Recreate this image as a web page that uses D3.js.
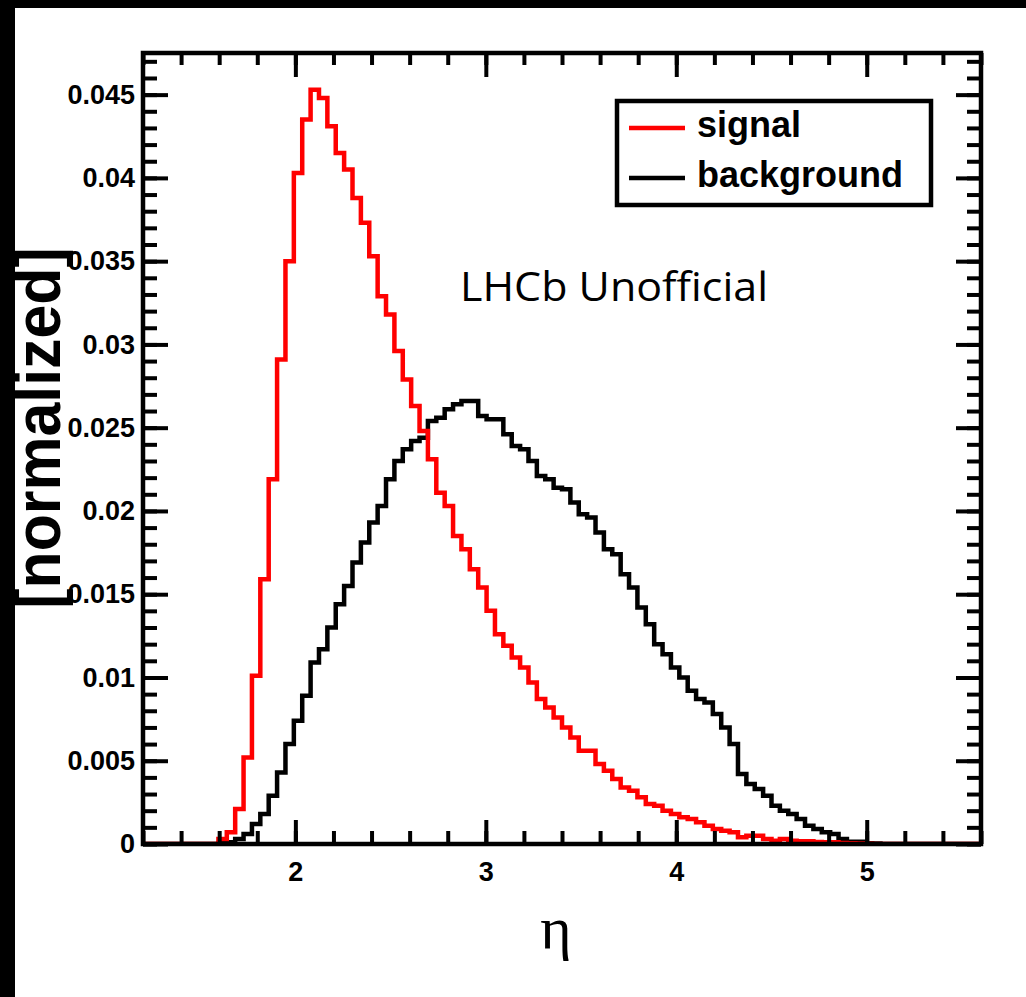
<!DOCTYPE html>
<html>
<head>
<meta charset="utf-8">
<script src="https://cdn.jsdelivr.net/npm/d3@7"></script>
<style>
body { margin: 0; background: #fff; }
svg { display: block; }
.tick text { font-family: "Liberation Sans", Arial, sans-serif; font-weight: bold; font-size: 27px; fill: #000; }
.tick line { stroke: #000; stroke-width: 4px; }
</style>
</head>
<body>
<svg></svg>
<script>
var width = 1026;
var height = 997;

// 100 bins of width 0.044 between 1.2 and 5.6
var binLow = 1.2;
var binWidth = 0.044;

var signal = [
    0, 0, 0, 0, 0, 0, 0, 0, 0, 0.0003,
    0.0007, 0.0021, 0.0052, 0.0101, 0.0159, 0.0219, 0.0291, 0.0350, 0.0403, 0.0435,
    0.0453, 0.0448, 0.0431, 0.0415, 0.0405, 0.0388, 0.0373, 0.0353, 0.0329, 0.0318,
    0.0296, 0.0279, 0.0263, 0.0248, 0.0231, 0.0211, 0.0203, 0.0185, 0.0177, 0.0165,
    0.0154, 0.0140, 0.0126, 0.0119, 0.0112, 0.0106, 0.0097, 0.0087, 0.0082, 0.0076,
    0.0070, 0.0064, 0.0056, 0.0056, 0.0048, 0.0044, 0.0039, 0.0034, 0.0032, 0.0028,
    0.0024, 0.0023, 0.0020, 0.0018, 0.0016, 0.0015, 0.0013, 0.0011, 0.0009, 0.0008,
    0.0007, 0.0004, 0.0005, 0.0005, 0.0003, 0.0002, 0.0003, 0.0002, 0.00016, 0.00016,
    0.00012, 0.0001, 0.0001, 0.00006, 0.00004, 0.00003, 0.00002, 0, 0, 0,
    0, 0, 0, 0, 0, 0, 0, 0, 0, 0
];

var background = [
    0, 0, 0, 0, 0, 0, 0, 0, 0, 0.00005,
    0.0001, 0.0003, 0.0006, 0.0012, 0.0018, 0.0029, 0.0043, 0.0060, 0.0074, 0.0089,
    0.0109, 0.0117, 0.0130, 0.0144, 0.0155, 0.0169, 0.0181, 0.0193, 0.0203, 0.0219,
    0.0230, 0.0237, 0.0242, 0.0244, 0.0254, 0.0256, 0.0261, 0.0264, 0.0266, 0.0266,
    0.0257, 0.0255, 0.0255, 0.0246, 0.0239, 0.0237, 0.0230, 0.0221, 0.0219, 0.0214,
    0.0213, 0.0205, 0.0198, 0.0196, 0.0187, 0.0177, 0.0174, 0.0162, 0.0154, 0.0142,
    0.0132, 0.0120, 0.0114, 0.0106, 0.0100, 0.0092, 0.0087, 0.0085, 0.0078, 0.0070,
    0.0060, 0.0042, 0.0036, 0.0033, 0.0029, 0.0023, 0.0020, 0.0018, 0.0015, 0.0011,
    0.0009, 0.0007, 0.0006, 0.0003, 0.00014, 0.00014, 0.00005, 0.00003, 0, 0,
    0, 0, 0, 0, 0, 0, 0, 0, 0, 0
];

var xTicks = [2, 3, 4, 5];
var xTickLabels = ["2", "3", "4", "5"];
var yTicks = [0, 0.005, 0.01, 0.015, 0.02, 0.025, 0.03, 0.035, 0.04, 0.045];
var yTickLabels = ["0", "0.005", "0.01", "0.015", "0.02", "0.025", "0.03", "0.035", "0.04", "0.045"];

var seriesNames = ["signal", "background"];
var seriesColors = ["#ff0000", "#000000"];

var svg = d3.select("svg")
    .attr("width", width)
    .attr("height", height);

// dark screen edge of the original screenshot
svg.append("rect").attr("x", 0).attr("y", 0).attr("width", 15).attr("height", height).attr("fill", "#000");
svg.append("rect").attr("x", 0).attr("y", 0).attr("width", width).attr("height", 8).attr("fill", "#000");

var plotLeft = 143, plotRight = 981, plotTop = 53, plotBottom = 844;

var x = d3.scaleLinear().domain([1.2, 5.6]).range([plotLeft, plotRight]);
var y = d3.scaleLinear().domain([0, 0.0475]).range([plotBottom, plotTop]);

var xMinor = d3.range(12, 57, 2).map(function(d) { return d / 10; });
var yMinor = d3.range(0, 48, 1).map(function(d) { return d / 1000; });

svg.append("clipPath").attr("id", "plot-clip")
  .append("rect")
    .attr("x", plotLeft).attr("y", plotTop)
    .attr("width", plotRight - plotLeft).attr("height", plotBottom - plotTop);

function stepPoints(vals) {
    var pts = [[binLow, 0]];
    vals.forEach(function(v, i) {
        var lo = binLow + i * binWidth;
        pts.push([lo, v]);
        pts.push([lo + binWidth, v]);
    });
    pts.push([binLow + vals.length * binWidth, 0]);
    return pts;
}

var line = d3.line()
    .x(function(d) { return x(d[0]); })
    .y(function(d) { return y(d[1]); });

var hists = svg.append("g").attr("clip-path", "url(#plot-clip)");

[background, signal].forEach(function(vals, i) {
    hists.append("path")
        .attr("d", line(stepPoints(vals)))
        .attr("fill", "none")
        .attr("stroke", i == 0 ? seriesColors[1] : seriesColors[0])
        .attr("stroke-width", 4.5)
        .attr("stroke-linejoin", "miter");
});

function noDomain(g) { g.select(".domain").remove(); }

// bottom
svg.append("g").attr("transform", "translate(0," + plotBottom + ")")
    .call(d3.axisBottom(x).tickValues(xMinor).tickSize(-13).tickFormat(""))
    .call(noDomain);
svg.append("g").attr("transform", "translate(0," + plotBottom + ")")
    .call(d3.axisBottom(x).tickValues(xTicks).tickSize(-24).tickPadding(18)
        .tickFormat(function(d, i) { return xTickLabels[i]; }))
    .call(noDomain);
// top
svg.append("g").attr("transform", "translate(0," + plotTop + ")")
    .call(d3.axisTop(x).tickValues(xMinor).tickSize(-12).tickFormat(""))
    .call(noDomain);
svg.append("g").attr("transform", "translate(0," + plotTop + ")")
    .call(d3.axisTop(x).tickValues(xTicks).tickSize(-24).tickFormat(""))
    .call(noDomain);
// left
svg.append("g").attr("transform", "translate(" + plotLeft + ",0)")
    .call(d3.axisLeft(y).tickValues(yMinor).tickSize(-14).tickFormat(""))
    .call(noDomain);
svg.append("g").attr("transform", "translate(" + plotLeft + ",0)")
    .call(d3.axisLeft(y).tickValues(yTicks).tickSize(-25).tickPadding(8)
        .tickFormat(function(d, i) { return yTickLabels[i]; }))
    .call(noDomain);
// right
svg.append("g").attr("transform", "translate(" + plotRight + ",0)")
    .call(d3.axisRight(y).tickValues(yMinor).tickSize(-14).tickFormat(""))
    .call(noDomain);
svg.append("g").attr("transform", "translate(" + plotRight + ",0)")
    .call(d3.axisRight(y).tickValues(yTicks).tickSize(-25).tickFormat(""))
    .call(noDomain);

svg.append("rect")
    .attr("x", plotLeft).attr("y", plotTop)
    .attr("width", plotRight - plotLeft).attr("height", plotBottom - plotTop)
    .attr("fill", "none")
    .attr("stroke", "#000")
    .attr("stroke-width", 4.5);

// axis titles
svg.append("text")
    .attr("transform", "translate(60,428) rotate(-90) scale(0.95,1)")
    .attr("text-anchor", "middle")
    .style("font-family", "'Liberation Sans', Arial, sans-serif")
    .style("font-weight", "bold")
    .style("font-size", "64px")
    .text("[normalized]");

svg.append("text")
    .attr("x", 556).attr("y", 948)
    .attr("text-anchor", "middle")
    .style("font-family", "'Liberation Serif', 'DejaVu Serif', serif")
    .style("font-size", "60px")
    .text("η");

svg.append("text")
    .attr("x", 460).attr("y", 301)
    .attr("textLength", 308)
    .attr("lengthAdjust", "spacingAndGlyphs")
    .style("font-family", "'Open Sans', 'Noto Sans', sans-serif")
    .style("font-size", "41px")
    .text("LHCb Unofficial");

// legend
var legend = svg.append("g");
legend.append("rect")
    .attr("x", 617).attr("y", 101)
    .attr("width", 314).attr("height", 104)
    .attr("fill", "#fff")
    .attr("stroke", "#000")
    .attr("stroke-width", 4.5);

seriesNames.forEach(function(name, i) {
    var ly = 128 + i * 50;
    legend.append("line")
        .attr("x1", 629).attr("x2", 685)
        .attr("y1", ly).attr("y2", ly)
        .attr("stroke", seriesColors[i])
        .attr("stroke-width", 4.5);
    legend.append("text")
        .attr("x", 697).attr("y", ly + 9)
        .style("font-family", "'Liberation Sans', Arial, sans-serif")
        .style("font-weight", "bold")
        .style("font-size", "36px")
        .text(name);
});
</script>
</body>
</html>
